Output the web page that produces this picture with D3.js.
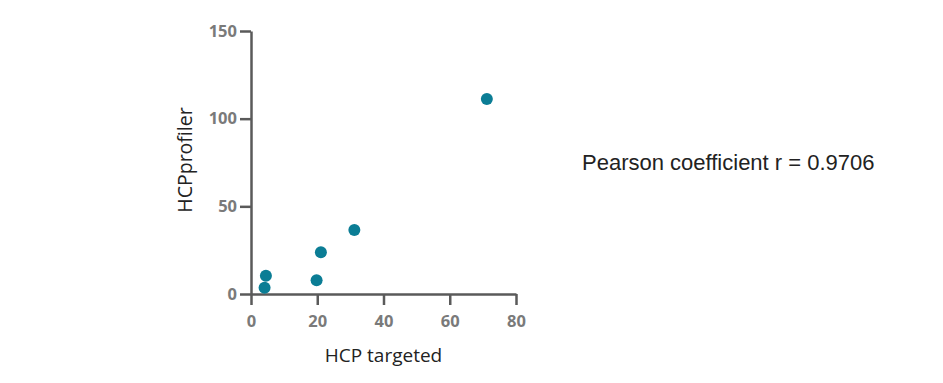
<!DOCTYPE html>
<html>
<head>
<meta charset="utf-8">
<script src="https://cdn.jsdelivr.net/npm/d3@7"></script>
<style>
  body { margin: 0; background: #fff; }
</style>
</head>
<body>
<svg id="chart" width="943" height="383"></svg>
<script>
// data
var targeted = [71.2, 31.2, 21.1, 19.8, 4.5, 4.1];
var profiler = [111.2, 36.5, 23.8, 7.8, 10.4, 3.6];
var xTicks = [0, 20, 40, 60, 80];
var yTicks = [0, 50, 100, 150];
var note = "Pearson coefficient r = 0.9706";

var svg = d3.select("#chart");

var x = d3.scaleLinear().domain([0, 80]).range([251, 516]);
var y = d3.scaleLinear().domain([0, 150]).range([294, 31]);

var axisColor = "#5a5a5a";

// x axis
var gx = svg.append("g")
	.attr("transform", "translate(0," + y(0) + ")")
	.call(d3.axisBottom(x).tickValues(xTicks).tickSize(11).tickPadding(10).tickSizeOuter(0));

// y axis
var gy = svg.append("g")
	.attr("transform", "translate(" + x(0) + ",0)")
	.call(d3.axisLeft(y).tickValues(yTicks).tickSize(11).tickPadding(3).tickSizeOuter(0));

[gx, gy].forEach(function(g) {
	g.select(".domain").attr("stroke", axisColor).attr("stroke-width", 2.5);
	g.selectAll(".tick line").attr("stroke", axisColor).attr("stroke-width", 2.5);
	g.selectAll(".tick text")
		.attr("fill", "#7a7a7a")
		.style("font-family", "'Open Sans', sans-serif")
		.style("font-weight", "bold")
		.style("font-size", "16.5px");
});

// points
svg.append("g")
	.selectAll("circle")
	.data(targeted)
	.enter()
	.append("circle")
	.attr("cx", function(d) { return x(d); })
	.attr("cy", function(d, i) { return y(profiler[i]); })
	.attr("r", 6)
	.attr("fill", "#0b7d95");

// axis titles
svg.append("text")
	.attr("x", (x(0) + x(80)) / 2)
	.attr("y", 362)
	.attr("text-anchor", "middle")
	.style("font-family", "'Open Sans', sans-serif")
	.style("font-size", "19px")
	.attr("fill", "#222")
	.text("HCP targeted");

svg.append("text")
	.attr("transform", "translate(192," + 160 + ") rotate(-90)")
	.attr("text-anchor", "middle")
	.style("font-family", "'Open Sans', sans-serif")
	.style("font-size", "19.5px")
	.attr("fill", "#222")
	.text("HCPprofiler");

// annotation
svg.append("text")
	.attr("x", 582)
	.attr("y", 170)
	.style("font-family", "'Liberation Sans', Arial, sans-serif")
	.style("font-size", "22px")
	.attr("fill", "#222")
	.text(note);
</script>
</body>
</html>
